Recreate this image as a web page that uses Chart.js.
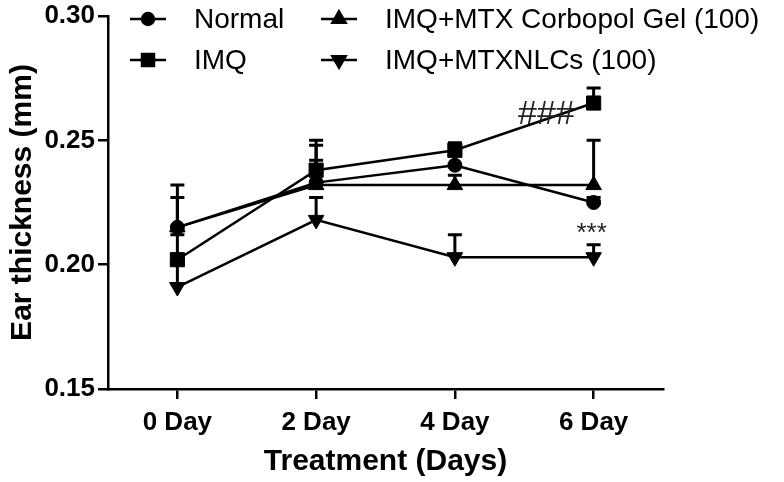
<!DOCTYPE html>
<html>
<head>
<meta charset="utf-8">
<script src="https://cdn.jsdelivr.net/npm/chart.js@4.4.0/dist/chart.umd.min.js"></script>
<style>
  html, body { margin: 0; padding: 0; background: #fff; }
  #wrap { width: 784px; height: 482px; }
</style>
</head>
<body>
<div id="wrap"><canvas id="earChart" width="784" height="482"></canvas></div>
<script>
// values (mm)
const categories = ['0 Day', '2 Day', '4 Day', '6 Day'];
const normal = [0.215, 0.233, 0.240, 0.225];
const imq = [0.202, 0.238, 0.246, 0.265];
const corbopolGel = [0.215, 0.232, 0.232, 0.232];
const nlcs = [0.191, 0.218, 0.203, 0.203];
// upward error bars (SD)
const normalErr = [0.017, 0.015, 0.004, 0.002];
const imqErr = [0.010, 0.012, 0.003, 0.006];
const corbopolGelErr = [0.012, 0.010, 0.004, 0.018];
const nlcsErr = [0.010, 0.009, 0.009, 0.005];
const yTicks = [0.15, 0.20, 0.25, 0.30];

const FONT = "'Liberation Sans', Arial, sans-serif";

function series(label, data, err, style, radius, rotation, order) {
    return {
        label: label,
        data: data,
        errors: err,
        order: order,
        borderColor: '#000',
        backgroundColor: '#000',
        borderWidth: 2.5,
        pointStyle: style,
        pointRadius: radius,
        pointHoverRadius: radius,
        pointRotation: rotation || 0,
        pointBorderWidth: 1,
        tension: 0,
        fill: false
    };
}

// vertical error bars with caps, under the markers
const errorBars = {
    id: 'errorBars',
    beforeDatasetsDraw(chart) {
        const ctx = chart.ctx;
        const y = chart.scales.y;
        ctx.save();
        ctx.strokeStyle = '#000';
        ctx.lineWidth = 3;
        chart.data.datasets.forEach((ds, i) => {
            const meta = chart.getDatasetMeta(i);
            meta.data.forEach((pt, j) => {
                const e = ds.errors[j];
                if (!e) return;
                const y0 = y.getPixelForValue(ds.data[j]);
                const y1 = y.getPixelForValue(ds.data[j] + e);
                ctx.beginPath();
                ctx.moveTo(pt.x, y0);
                ctx.lineTo(pt.x, y1);
                ctx.moveTo(pt.x - 7, y1);
                ctx.lineTo(pt.x + 7, y1);
                ctx.stroke();
            });
        });
        ctx.restore();
    }
};

// legend in two columns plus significance marks
const extras = {
    id: 'extras',
    afterDraw(chart) {
        const ctx = chart.ctx;
        const xs = chart.scales.x, ys = chart.scales.y;
        ctx.save();
        const cols = [148, 339], rows = [19, 60];
        chart.data.datasets.forEach((ds, i) => {
            const cx = cols[Math.floor(i / 2)];
            const cy = rows[i % 2];
            ctx.strokeStyle = '#000';
            ctx.lineWidth = 2.5;
            ctx.beginPath();
            ctx.moveTo(cx - 18, cy);
            ctx.lineTo(cx + 18, cy);
            ctx.stroke();
            ctx.fillStyle = '#000';
            Chart.helpers.drawPoint(ctx, {
                pointStyle: ds.pointStyle,
                radius: ds.pointRadius * 0.85,
                rotation: ds.pointRotation,
                borderWidth: 1
            }, cx, cy);
            ctx.fill();
            ctx.font = '28px ' + FONT;
            ctx.textAlign = 'left';
            ctx.textBaseline = 'middle';
            ctx.fillText(ds.label, cx + 46, cy + 1);
        });

        ctx.fillStyle = '#222';
        ctx.textAlign = 'center';
        ctx.textBaseline = 'middle';
        ctx.font = '34px ' + FONT;
        ctx.fillText('###', (xs.getPixelForValue(2) + 2 * xs.getPixelForValue(3)) / 3 - 1, ys.getPixelForValue(0.2605));
        ctx.font = '26px ' + FONT;
        ctx.fillText('***', xs.getPixelForValue(3) - 2, ys.getPixelForValue(0.2125));
        ctx.restore();
    }
};

document.addEventListener('DOMContentLoaded', function () {
    var ctx = document.getElementById('earChart').getContext('2d');

    var earChart = new Chart(ctx, {
        type: 'line',
        data: {
            labels: categories,
            datasets: [
                series('Normal', normal, normalErr, 'circle', 7, 0, 1),
                series('IMQ', imq, imqErr, 'rect', 10, 0, 0),
                series('IMQ+MTX Corbopol Gel (100)', corbopolGel, corbopolGelErr, 'triangle', 9, 0, 2),
                series('IMQ+MTXNLCs (100)', nlcs, nlcsErr, 'triangle', 9, 180, 1)
            ]
        },
        options: {
            responsive: false,
            animation: false,
            layout: { padding: { top: 14, right: 121, bottom: 0, left: 0 } },
            plugins: {
                legend: { display: false },
                tooltip: { enabled: false }
            },
            scales: {
                x: {
                    offset: true,
                    grid: { drawOnChartArea: false, offset: false, color: '#000', lineWidth: 2.5, tickLength: 10 },
                    border: { display: true, color: '#000', width: 2.5 },
                    ticks: { color: '#000', padding: 8, font: { family: FONT, size: 26, weight: 'bold' }, maxRotation: 0 },
                    title: { display: true, text: 'Treatment (Days)', color: '#000', padding: { top: 0, bottom: 2 },
                             font: { family: FONT, size: 30, weight: 'bold' } },
                    afterFit(scale) { scale.height = 93; }
                },
                y: {
                    min: 0.15,
                    max: 0.30,
                    afterBuildTicks(scale) { scale.ticks = yTicks.map(v => ({ value: v })); },
                    grid: { drawOnChartArea: false, color: '#000', lineWidth: 2.5, tickLength: 10 },
                    border: { display: true, color: '#000', width: 2.5 },
                    ticks: { color: '#000', padding: 3, font: { family: FONT, size: 26, weight: 'bold', lineHeight: 1 },
                             callback: v => Number(v).toFixed(2) },
                    title: { display: true, text: 'Ear thickness (mm)', color: '#000', padding: { top: 5, bottom: 0 },
                             font: { family: FONT, size: 30, weight: 'bold' } },
                    afterFit(scale) { scale.width = 108; }
                }
            }
        },
        plugins: [errorBars, extras]
    });
});
</script>
</body>
</html>
